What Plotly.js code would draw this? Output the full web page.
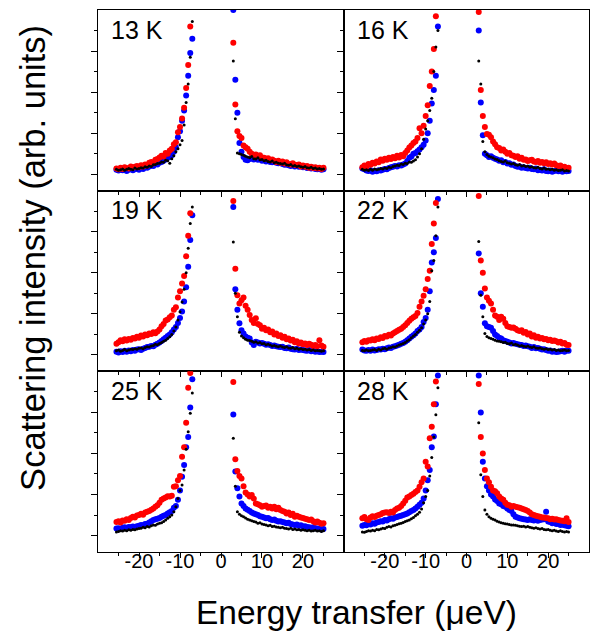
<!DOCTYPE html>
<html>
<head>
<meta charset="utf-8">
<script src="https://cdn.plot.ly/plotly-3.0.1.min.js"></script>
<style>html,body{margin:0;padding:0;background:#fff;}#chart{width:592px;height:633px;}</style>
</head>
<body>
<div id="chart"></div>
<script>
// Energy transfer grid (µeV): negative side and positive side of the cut-out elastic peak
var xLeft = [-25.5,-25,-24.5,-24,-23.5,-23,-22.5,-22,-21.5,-21,-20.5,-20,-19.5,-19,-18.5,-18,-17.5,-17,-16.5,-16,-15.5,-15,-14.5,-14,-13.5,-13,-12.5,-12,-11.5,-11,-10.5,-10,-9.5,-9,-8.5,-8,-7.5,-7];
var xRight = [3,3.5,4,4.5,5,5.5,6,6.5,7,7.5,8,8.5,9,9.5,10,10.5,11,11.5,12,12.5,13,13.5,14,14.5,15,15.5,16,16.5,17,17.5,18,18.5,19,19.5,20,20.5,21,21.5,22,22.5,23,23.5,24,24.5,25];

var temperatures = ['13 K','16 K','19 K','22 K','25 K','28 K'];
var xTickVals = [-20,-10,0,10,20];
var xTickText = ['-20','-10','0','10','20'];

// 13 K
var red13L = [.14,.12,.16,.13,.17,.15,.14,.19,.16,.18,.2,.17,.22,.19,.24,.21,.28,.3,.27,.35,.37,.41,.45,.43,.52,.5,.58,.62,.73,.78,1.02,1.15,1.36,1.62,2.1,2.66,3.6,4.5];
var red13R = [3.2,1.7,1.05,.93,.88,.7,.66,.62,.55,.5,.47,.48,.44,.46,.41,.4,.38,.39,.34,.36,.33,.3,.33,.28,.31,.26,.29,.25,.24,.27,.23,.22,.24,.19,.21,.18,.2,.16,.18,.15,.17,.14,.16,.13,.16];
var blue13L = [.11,.09,.13,.1,.12,.08,.11,.13,.1,.12,.14,.11,.15,.13,.17,.16,.19,.21,.2,.25,.24,.28,.3,.33,.36,.4,.42,.46,.55,.65,.9,1.05,1.3,1.55,1.92,2.4,2.95,3.3];
var blue13R = [4.0,2.3,1.5,.76,.55,.42,.35,.34,.37,.39,.36,.38,.35,.37,.33,.34,.31,.33,.3,.29,.31,.28,.27,.29,.25,.23,.24,.22,.2,.23,.19,.21,.18,.2,.17,.18,.15,.17,.14,.16,.13,.12,.14,.11,.12];
var black13L = [.12,.1,.11,.13,.1,.12,.14,.12,.11,.15,.13,.14,.16,.15,.18,.17,.2,.19,.23,.24,.26,.27,.3,.29,.34,.33,.27,.38,.45,.55,.62,.72,.82,1.2,1.75,2.2,2.85,3.72];
var black13R = [2.76,1.35,.52,.5,.48,.46,.44,.42,.4,.43,.38,.37,.4,.35,.36,.33,.34,.31,.3,.32,.28,.29,.27,.26,.25,.27,.23,.22,.24,.2,.21,.19,.2,.18,.17,.19,.16,.15,.17,.14,.15,.13,.14,.12,.13];

// 16 K
var red16L = [.17,.21,.19,.25,.23,.28,.26,.31,.29,.36,.33,.38,.35,.4,.37,.42,.39,.45,.41,.47,.44,.52,.58,.65,.7,.76,.8,.88,1.12,1.0,1.18,1.42,1.68,2.15,2.5,3.05,3.85,4.5];
var red16R = [3.95,2.05,1.42,1.15,.98,.96,.9,.8,.73,.66,.64,.58,.6,.55,.5,.52,.46,.45,.42,.44,.38,.4,.35,.36,.32,.34,.35,.31,.3,.32,.28,.3,.27,.29,.25,.27,.24,.26,.22,.2,.21,.17,.18,.15,.16];
var blue16L = [.14,.12,.09,.08,.1,.06,.08,.07,.1,.09,.11,.13,.12,.15,.17,.18,.2,.19,.22,.21,.24,.26,.32,.4,.43,.5,.52,.56,.6,.66,.72,.82,1.0,1.3,1.72,2.05,2.4,3.6];
var blue16R = [3.5,1.75,.95,.5,.46,.42,.44,.4,.38,.36,.33,.34,.29,.3,.26,.27,.23,.24,.2,.18,.19,.16,.17,.15,.14,.16,.13,.12,.14,.1,.11,.09,.12,.08,.07,.09,.06,.08,.1,.07,.09,.06,.08,.07,.08];
var black16L = [.12,.1,.11,.09,.12,.1,.13,.11,.12,.14,.13,.15,.14,.17,.16,.19,.2,.22,.21,.25,.24,.27,.26,.3,.29,.32,.35,.42,.5,.62,.85,1.1,1.3,1.55,1.85,2.5,3.1,3.5];
var black16R = [2.76,2.2,.8,.55,.48,.44,.42,.4,.37,.36,.33,.31,.3,.32,.28,.27,.25,.26,.23,.22,.24,.2,.21,.19,.2,.17,.18,.16,.15,.17,.14,.13,.15,.12,.13,.11,.12,.1,.11,.09,.1,.11,.08,.09,.08];

// 19 K
var red19L = [.27,.31,.36,.33,.38,.35,.39,.37,.41,.4,.44,.42,.47,.45,.5,.48,.52,.51,.55,.53,.57,.62,.7,.75,.84,.86,.92,.96,1.1,1.16,1.4,1.55,1.74,1.92,2.4,2.9,3.45,4.2];
var red19R = [3.75,2.1,1.45,1.25,1.33,1.4,1.2,1.1,.97,.85,.78,.89,.75,.72,.64,.66,.6,.62,.55,.57,.5,.52,.46,.48,.42,.44,.38,.4,.35,.37,.31,.33,.28,.3,.26,.28,.24,.27,.25,.22,.24,.21,.36,.23,.2];
var blue19L = [.08,.06,.09,.07,.1,.08,.11,.09,.12,.1,.13,.14,.12,.15,.17,.19,.2,.22,.21,.25,.27,.3,.34,.38,.42,.46,.5,.55,.62,.68,.78,.9,1.06,1.3,1.65,2.15,2.8,3.4];
var blue19R = [3.6,1.6,1.1,.77,.6,.52,.45,.42,.4,.3,.24,.32,.3,.28,.29,.27,.25,.26,.24,.22,.23,.21,.2,.19,.2,.17,.16,.18,.15,.14,.13,.15,.12,.13,.12,.11,.1,.12,.09,.1,.08,.09,.07,.08,.07];
var black19L = [.1,.12,.09,.11,.13,.1,.12,.14,.13,.15,.14,.16,.17,.15,.18,.2,.19,.22,.23,.26,.25,.28,.3,.33,.36,.4,.44,.5,.58,.68,.85,1.05,1.29,1.6,2.0,2.6,3.2,3.6];
var black19R = [2.75,1.5,.93,.55,.46,.42,.38,.36,.35,.33,.31,.32,.29,.3,.27,.28,.25,.26,.24,.22,.23,.21,.2,.22,.19,.18,.2,.17,.16,.18,.15,.16,.14,.15,.13,.14,.12,.13,.11,.12,.1,.11,.1,.09,.1];

// 22 K
var red22L = [.31,.34,.32,.36,.35,.38,.36,.4,.39,.43,.41,.46,.45,.49,.47,.52,.55,.58,.61,.64,.68,.72,.78,.83,.88,.92,.95,1.02,1.17,1.3,1.44,1.6,1.85,2.05,2.7,3.2,3.7,4.3];
var red22R = [3.87,2.3,2.0,1.62,1.4,1.32,1.25,1.1,.96,.93,.85,.93,.88,.78,.7,.68,.66,.67,.64,.6,.58,.6,.54,.56,.5,.52,.45,.48,.42,.44,.4,.41,.38,.39,.36,.37,.34,.35,.33,.3,.32,.28,.29,.25,.24];
var blue22L = [.13,.11,.1,.12,.1,.13,.11,.12,.14,.13,.15,.14,.16,.18,.17,.2,.21,.23,.25,.27,.29,.32,.36,.4,.44,.48,.52,.58,.62,.68,.8,.9,1.1,1.55,2.25,2.5,2.85,3.8];
var blue22R = [2.47,1.5,1.17,.77,.7,.68,.66,.58,.5,.46,.42,.4,.36,.34,.32,.3,.28,.29,.27,.26,.25,.24,.22,.23,.21,.2,.17,.19,.16,.17,.15,.13,.14,.12,.1,.11,.08,.09,.07,.08,.09,.1,.08,.11,.1];
var black22L = [.11,.1,.12,.1,.11,.12,.13,.11,.14,.12,.15,.16,.14,.17,.18,.2,.19,.22,.24,.26,.28,.3,.34,.37,.42,.46,.5,.55,.6,.66,.75,.85,1.0,1.3,2.05,2.3,2.9,3.6];
var black22R = [2.76,1.45,.93,.52,.45,.42,.4,.38,.36,.34,.33,.32,.3,.31,.28,.27,.29,.25,.26,.24,.22,.23,.21,.2,.22,.19,.18,.2,.17,.16,.17,.15,.14,.15,.13,.14,.12,.13,.11,.12,.1,.11,.12,.1,.11];

// 25 K
var red25L = [.33,.35,.32,.37,.36,.4,.38,.43,.46,.44,.49,.5,.53,.51,.56,.58,.6,.63,.66,.7,.74,.8,.87,.9,.93,.96,.95,.97,1.19,1.2,1.35,1.45,1.92,2.15,2.75,3.6,3.96,4.5];
var red25R = [3.74,1.86,1.57,1.45,1.39,1.2,1.05,1.0,.95,.99,.9,.78,.76,.74,.7,.72,.73,.68,.7,.66,.7,.64,.68,.62,.6,.58,.54,.56,.5,.53,.46,.48,.46,.44,.43,.41,.4,.38,.39,.35,.32,.34,.31,.29,.3];
var blue25L = [.17,.18,.16,.19,.2,.18,.21,.2,.22,.21,.23,.24,.26,.25,.28,.29,.32,.35,.38,.4,.41,.43,.46,.48,.5,.54,.57,.6,.68,.72,.87,1.1,1.43,1.72,2.15,2.4,3.12,3.81];
var blue25R = [2.95,1.56,1.15,.95,.78,.72,.66,.63,.6,.56,.54,.52,.5,.47,.46,.44,.42,.43,.4,.38,.39,.36,.34,.35,.33,.32,.3,.31,.28,.27,.26,.27,.24,.25,.22,.23,.21,.2,.19,.2,.18,.17,.16,.15,.16];
var black25L = [.09,.1,.12,.11,.13,.12,.14,.13,.15,.14,.16,.17,.18,.2,.19,.22,.21,.24,.26,.25,.28,.3,.31,.34,.38,.42,.46,.5,.58,.7,.9,1.1,1.23,1.6,2.1,2.53,2.98,3.47];
var black25R = [2.37,1.2,.58,.52,.48,.46,.43,.4,.38,.36,.34,.33,.3,.31,.28,.27,.26,.24,.25,.22,.23,.21,.2,.19,.2,.18,.17,.16,.18,.15,.16,.14,.15,.13,.14,.13,.12,.13,.11,.12,.13,.11,.12,.1,.12];

// 28 K
var red28L = [.42,.45,.4,.38,.44,.47,.45,.48,.5,.52,.55,.56,.57,.55,.58,.56,.62,.66,.68,.72,.78,.85,.93,.95,.99,1.02,1.06,1.1,1.19,1.3,1.39,1.8,1.68,2.37,2.65,3.2,3.75,4.3];
var red28R = [3.69,2.4,2.0,1.6,1.39,1.3,1.19,1.1,1.08,1.03,.95,.9,.87,.8,.75,.74,.7,.72,.7,.69,.68,.66,.64,.62,.6,.56,.52,.5,.48,.47,.46,.44,.44,.43,.42,.4,.41,.39,.4,.38,.37,.36,.35,.42,.33];
var blue28L = [.24,.26,.25,.28,.27,.3,.29,.32,.33,.35,.34,.38,.37,.4,.42,.41,.44,.45,.47,.48,.5,.52,.54,.57,.6,.62,.66,.7,.75,.8,.9,1.1,1.35,1.6,2.15,2.41,3.2,3.9];
var blue28R = [3.9,3.0,1.8,1.39,1.2,1.1,1.0,.95,.88,.84,.78,.76,.72,.7,.66,.62,.6,.52,.46,.44,.42,.41,.4,.39,.38,.4,.38,.37,.38,.36,.38,.39,.4,.58,.34,.33,.3,.31,.28,.29,.26,.27,.25,.24,.23];
var black28L = [.09,.08,.1,.12,.11,.13,.12,.15,.14,.16,.18,.17,.2,.22,.21,.24,.25,.27,.29,.3,.32,.34,.36,.38,.41,.44,.48,.52,.57,.65,.8,.95,1.1,1.45,1.9,2.4,2.94,3.6];
var black28R = [2.75,1.48,.95,.62,.52,.46,.42,.4,.38,.35,.33,.31,.3,.29,.28,.27,.26,.26,.25,.24,.23,.22,.23,.21,.22,.2,.19,.18,.19,.17,.16,.17,.15,.14,.15,.13,.12,.13,.11,.1,.12,.1,.09,.1,.09];

var panelData = [
  {blue:[blue13L,blue13R], red:[red13L,red13R], black:[black13L,black13R]},
  {blue:[blue16L,blue16R], red:[red16L,red16R], black:[black16L,black16R]},
  {blue:[blue19L,blue19R], red:[red19L,red19R], black:[black19L,black19R]},
  {blue:[blue22L,blue22R], red:[red22L,red22R], black:[black22L,black22R]},
  {blue:[blue25L,blue25R], red:[red25L,red25R], black:[black25L,black25R]},
  {blue:[blue28L,blue28R], red:[red28L,red28R], black:[black28L,black28R]}
];

var FONT = 'Arial, "Liberation Sans", sans-serif';
var xAll = xLeft.concat(xRight);
var styles = {
  blue: {color:'#0000ff', size:6},
  red: {color:'#ff0000', size:6},
  black: {color:'#000000', size:3}
};
var traces = [];
var layout = {
  width:592, height:633,
  margin:{l:98, r:3, t:10, b:81, pad:0},
  paper_bgcolor:'#ffffff', plot_bgcolor:'#ffffff',
  showlegend:false,
  font:{family:FONT, color:'#000', size:20},
  annotations:[]
};
var colDom = [[0,0.501],[0.501,1]];
var rowDom = [[2/3,1],[1/3,2/3],[0,1/3]];

for (var p = 0; p < 6; p++) {
  var n = p + 1;
  var xa = n === 1 ? 'x' : 'x' + n;
  var ya = n === 1 ? 'y' : 'y' + n;
  ['blue','red','black'].forEach(function(s){
    var d = panelData[p][s];
    traces.push({
      type:'scatter', mode:'markers', xaxis:xa, yaxis:ya,
      x:xAll, y:d[0].concat(d[1]),
      marker:{color:styles[s].color, size:styles[s].size, line:{width:0}},
      hoverinfo:'skip'
    });
  });
  var col = p % 2, row = Math.floor(p / 2);
  var xk = n === 1 ? 'xaxis' : 'xaxis' + n;
  var yk = n === 1 ? 'yaxis' : 'yaxis' + n;
  layout[xk] = {
    domain:colDom[col], anchor:ya, range:[-30,30],
    showline:true, mirror:true, linecolor:'#000', linewidth:1,
    showgrid:false, zeroline:false,
    tickmode:'array', tickvals:xTickVals, ticktext:xTickText,
    ticks:'outside', ticklen:5, tickwidth:1, tickcolor:'#000',
    minor:{tickmode:'array', tickvals:[-25,-15,-5,5,15,25], ticks:'outside', ticklen:3, tickwidth:1, tickcolor:'#000', showgrid:false},
    showticklabels: row === 2,
    tickfont:{family:FONT, size:20, color:'#000'},
    ticklabelstandoff:-14
  };
  layout[yk] = {
    domain:rowDom[row], anchor:xa, range:[-0.4,4.0],
    showline:true, mirror:true, linecolor:'#000', linewidth:1,
    showgrid:false, zeroline:false,
    tickmode:'array', tickvals:[0,1,2,3],
    ticks:'outside', ticklen:6, tickwidth:1, tickcolor:'#000',
    minor:{tickmode:'array', tickvals:[0.5,1.5,2.5,3.5], ticks:'outside', ticklen:3, tickwidth:1, tickcolor:'#000', showgrid:false},
    showticklabels:false
  };
  layout.annotations.push({
    text:temperatures[p], xref:xa + ' domain', yref:ya + ' domain',
    x:0.045, y:0.892, xanchor:'left', yanchor:'middle', showarrow:false,
    font:{family:FONT, size:25, color:'#000'}
  });
}
layout.annotations.push({
  text:'Energy transfer (\u03bceV)', xref:'paper', yref:'paper',
  x:0.5255, y:-0.112, xanchor:'center', yanchor:'middle', showarrow:false,
  font:{family:FONT, size:33.5, color:'#000'}
});
layout.annotations.push({
  text:'Scattering intensity (arb. units)', xref:'paper', yref:'paper',
  x:-0.132, y:0.543, xanchor:'center', yanchor:'middle', textangle:-90, showarrow:false,
  font:{family:FONT, size:34.5, color:'#000'}
});

Plotly.newPlot('chart', traces, layout, {staticPlot:true, displayModeBar:false});
</script>
</body>
</html>
